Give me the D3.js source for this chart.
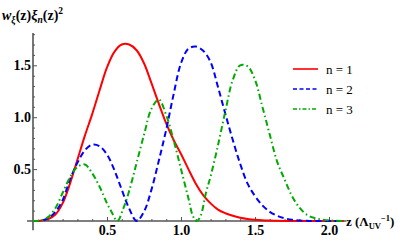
<!DOCTYPE html>
<meta charset="utf-8">
<html>
<head>
<style>
  body { margin: 0; background: #fff; }
  svg text { font-family: "Liberation Serif", "Times New Roman", serif; }
</style>
</head>
<body>
<svg id="chart" width="407" height="252" font-family="Liberation Serif"></svg>
<script src="https://d3js.org/d3.v7.min.js"></script>
<script>

// z grid (units of 1/Lambda_UV)
var zGrid = [0, 0.05, 0.1, 0.15, 0.2, 0.25, 0.3, 0.35, 0.4, 0.45, 0.5, 0.55, 0.6, 0.65, 0.7,
  0.75, 0.8, 0.85, 0.9, 0.95, 1.0, 1.05, 1.1, 1.15, 1.2, 1.25, 1.3, 1.35, 1.4, 1.45, 1.5,
  1.55, 1.6, 1.65, 1.7, 1.75, 1.8, 1.85, 1.9, 1.95, 2.0, 2.05, 2.1];

// n = 1
var n1Values = [0, 0.003, 0.017, 0.06, 0.17, 0.36, 0.59, 0.82, 1.03, 1.26, 1.48, 1.63, 1.70, 1.70, 1.645,
  1.52, 1.33, 1.13, 0.94, 0.78, 0.645, 0.50, 0.36, 0.25, 0.17, 0.11, 0.075, 0.05, 0.032, 0.02, 0.012,
  0.007, 0.004, 0.002, 0.001, 0, 0, 0, 0, 0, 0, 0, 0];

// n = 2
var n2Values = [0, 0.003, 0.025, 0.085, 0.2, 0.40, 0.56, 0.68, 0.735, 0.72, 0.64, 0.49, 0.30, 0.12, 0,
  0.09, 0.30, 0.58, 0.88, 1.22, 1.52, 1.66, 1.68, 1.64, 1.53, 1.29, 1.03, 0.78, 0.55, 0.36, 0.24,
  0.15, 0.088, 0.05, 0.026, 0.012, 0.005, 0.002, 0, 0, 0, 0, 0];

// n = 3 (own grid so the zeros land on points)
var n3Z = [0, 0.05, 0.1, 0.15, 0.2, 0.25, 0.3, 0.35, 0.4, 0.45, 0.5, 0.53, 0.57, 0.61, 0.65, 0.7,
  0.75, 0.8, 0.85, 0.9, 0.95, 1.0, 1.05, 1.08, 1.105, 1.13, 1.17, 1.2, 1.25, 1.3, 1.35, 1.4, 1.45,
  1.5, 1.55, 1.6, 1.65, 1.7, 1.75, 1.8, 1.85, 1.9, 1.95, 2.0, 2.1];
var n3Values = [0, 0.004, 0.035, 0.12, 0.27, 0.42, 0.52, 0.545, 0.46, 0.33, 0.17, 0.09, 0, 0.12, 0.29, 0.56,
  0.83, 1.08, 1.17, 1.02, 0.78, 0.50, 0.22, 0.05, 0, 0.04, 0.28, 0.43, 0.73, 1.06, 1.36, 1.50, 1.49,
  1.36, 1.10, 0.83, 0.57, 0.40, 0.24, 0.13, 0.06, 0.03, 0.015, 0.006, 0];

var legendLabels = ["n = 1", "n = 2", "n = 3"];
var xTicks = [0.5, 1.0, 1.5, 2.0];
var yTicks = [0.5, 1.0, 1.5];

var svg = d3.select("#chart");

var x = d3.scaleLinear().domain([0, 2]).range([33, 329]);
var y = d3.scaleLinear().domain([0, 1.5]).range([221, 65.3]);

var axisColor = "#555";
var serif = "'Liberation Serif', 'Times New Roman', serif";

// minor ticks every 0.1
var xMinor = d3.range(1, 21).map(function (i) { return i / 10; }).filter(function (d) { return Math.abs(d * 2 - Math.round(d * 2)) > 1e-6; });
var yMinor = d3.range(1, 19).map(function (i) { return i / 10; }).filter(function (d) { return Math.abs(d * 2 - Math.round(d * 2)) > 1e-6; });

// axis lines
svg.append("line")
  .attr("x1", x(-0.04)).attr("x2", x(2.115))
  .attr("y1", y(0)).attr("y2", y(0))
  .attr("stroke", axisColor).attr("stroke-width", 1.6);
svg.append("line")
  .attr("x1", x(0)).attr("x2", x(0))
  .attr("y1", y(-0.09)).attr("y2", y(1.81))
  .attr("stroke", axisColor).attr("stroke-width", 1.6);

// x axis ticks
var gx = svg.append("g").attr("transform", "translate(0," + y(0) + ")");
gx.call(d3.axisBottom(x).tickValues(xTicks).tickSize(-4).tickPadding(4).tickFormat(d3.format(".1f")));
gx.append("g").call(d3.axisBottom(x).tickValues(xMinor).tickSize(-2).tickFormat(""));

// y axis ticks
var gy = svg.append("g").attr("transform", "translate(" + x(0) + ",0)");
gy.call(d3.axisLeft(y).tickValues(yTicks).tickSize(-4).tickPadding(2).tickFormat(d3.format(".1f")));
gy.append("g").call(d3.axisLeft(y).tickValues(yMinor).tickSize(-2).tickFormat(""));

svg.selectAll(".domain").remove();
gx.attr("font-family", serif); gy.attr("font-family", serif);
svg.selectAll(".tick line").attr("stroke", axisColor).attr("stroke-width", 1);
svg.selectAll(".tick text")
  .attr("fill", "#000")
  .style("font-family", serif)
  .style("font-weight", "bold")
  .style("font-size", "14px");

// curves
var line = d3.line()
  .x(function (d) { return x(d[0]); })
  .y(function (d) { return y(d[1]); })
  .curve(d3.curveCatmullRom.alpha(0.5));

var series = [
  { pts: zGrid.map(function (z, i) { return [z, n1Values[i]]; }), color: "#ff0000", dash: null, legDash: null },
  { pts: zGrid.map(function (z, i) { return [z, n2Values[i]]; }), color: "#0000ff", dash: "6,3.5", legDash: "4,2.5" },
  { pts: n3Z.map(function (z, i) { return [z, n3Values[i]]; }), color: "#00aa00", dash: "6,3,1.5,3", legDash: "4,2,1.5,2" }
];

series.forEach(function (s) {
  svg.append("path")
    .attr("d", line(s.pts))
    .attr("fill", "none")
    .attr("stroke", s.color)
    .attr("stroke-width", 2)
    .attr("stroke-dasharray", s.dash);
});

// legend
series.forEach(function (s, i) {
  var ly = 69 + i * 20;
  svg.append("line")
    .attr("x1", 293).attr("x2", 318)
    .attr("y1", ly).attr("y2", ly)
    .attr("stroke", s.color).attr("stroke-width", 1.6)
    .attr("stroke-dasharray", s.legDash);
  svg.append("text")
    .attr("x", 326).attr("y", ly + 4.5)
    .style("font-family", serif)
    .style("font-size", "13px")
    .text(legendLabels[i]);
});

// y axis title: w_xi(z) xi_n(z)^2
var yt = svg.append("text")
  .attr("x", 2).attr("y", 20)
  .style("font-family", serif)
  .style("font-size", "14px")
  .style("font-weight", "bold");
yt.append("tspan").style("font-style", "italic").text("w");
yt.append("tspan").style("font-style", "italic").style("font-size", "9.5px").attr("dy", 3).text("ξ");
yt.append("tspan").attr("dy", -3).text("(z)");
yt.append("tspan").style("font-style", "italic").text("ξ");
yt.append("tspan").style("font-style", "italic").style("font-size", "9.5px").attr("dy", 3).text("n");
yt.append("tspan").attr("dy", -3).text("(z)");
yt.append("tspan").style("font-size", "9.5px").attr("dy", -6).text("2");

// x axis title: z (Lambda_UV^-1)
var xt = svg.append("text")
  .attr("x", 346).attr("y", 226)
  .style("font-family", serif)
  .style("font-size", "13px")
  .style("font-weight", "bold");
xt.append("tspan").text("z (Λ");
xt.append("tspan").style("font-size", "8.5px").attr("dy", 3).text("UV");
xt.append("tspan").style("font-size", "8.5px").attr("dy", -8).text("−1");
xt.append("tspan").attr("dy", 5).text(")");

</script>
</body>
</html>
